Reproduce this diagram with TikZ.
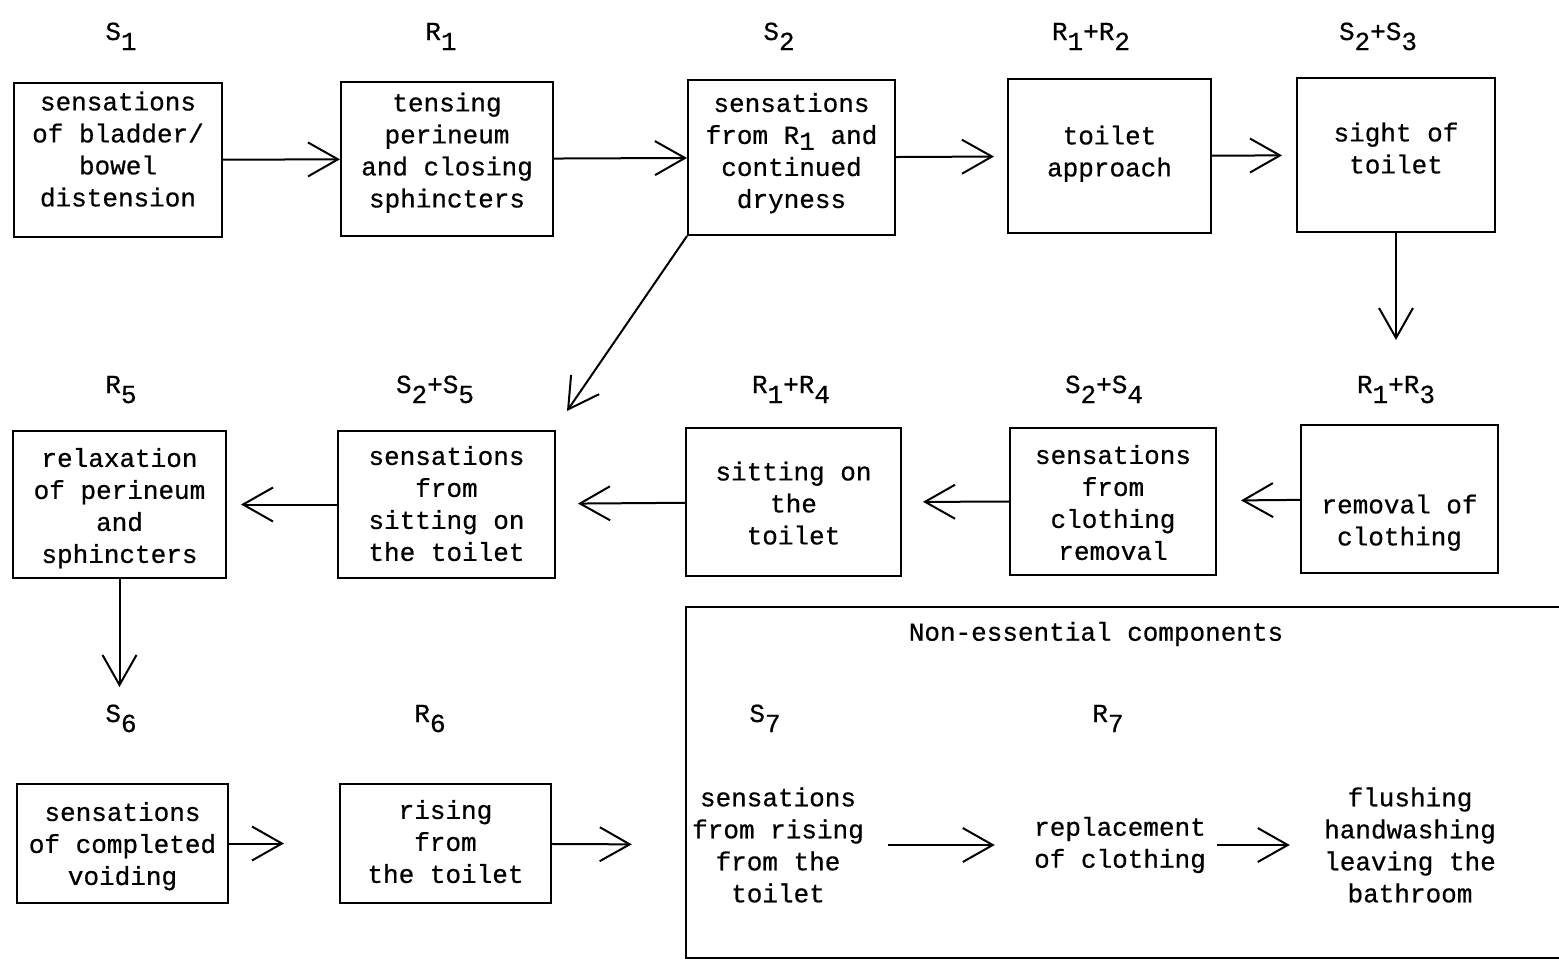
\documentclass[tikz,border=0pt]{standalone}
\usepackage{fontspec}
\usepackage{tikz}
\usetikzlibrary{arrows.meta, positioning}
\newfontfamily\tw[FakeBold=0.6]{Liberation Mono}
\newcommand{\dn}[1]{\raisebox{-5pt}{#1}}
\newcommand{\lift}[2]{\raisebox{#1}[\height][\depth]{\begin{tabular}{@{}c@{}}#2\end{tabular}}}

\begin{document}
\begin{tikzpicture}[x=0.5pt,y=-0.5pt,
    every node/.style={font=\tw\fontsize{13}{16}\selectfont, align=center},
    box/.style 2 args={draw, line width=1pt, inner sep=0pt,
        minimum width=#1*0.5pt, minimum height=#2*0.5pt},
    txt/.style={inner sep=0pt},
    lab/.style={anchor=base, inner sep=0pt},
    arr/.style={-{Straight Barb[length=15pt,width=17pt]}, line width=1pt}]
    \useasboundingbox (0,0) rectangle (1559,960);

    % essential chain
    \node[box={208}{154}] (s1)  at (118,160)    {\lift{4pt}{sensations\\of bladder/\\bowel\\distension}};
    \node[box={212}{154}] (r1)  at (447,159)    {\lift{3pt}{tensing\\perineum\\and closing\\sphincters}};
    \node[box={207}{155}] (s2)  at (791.5,157.5) {\lift{2pt}{sensations\\from R\raisebox{-3pt}{1} and\\continued\\dryness}};
    \node[box={203}{154}] (r12) at (1109.5,156) {\lift{1pt}{toilet\\approach}};
    \node[box={198}{154}] (s23) at (1396,155)   {\lift{2pt}{sight of\\toilet}};
    \node[box={197}{148}] (r13) at (1399.5,499) {\lift{-12pt}{removal of\\clothing}};
    \node[box={206}{147}] (s24) at (1113,501.5) {\lift{-2pt}{sensations\\from\\clothing\\removal}};
    \node[box={215}{148}] (r14) at (793.5,502)  {\lift{-2pt}{sitting on\\the\\toilet}};
    \node[box={217}{147}] (s25) at (446.5,504.5) {\lift{-1pt}{sensations\\from\\sitting on\\the toilet}};
    \node[box={213}{147}] (r5)  at (119.5,504.5) {\lift{-2pt}{relaxation\\of perineum\\and\\sphincters}};
    \node[box={211}{119}] (s6)  at (122.5,843.5) {\lift{-1.5pt}{sensations\\of completed\\voiding}};
    \node[box={211}{119}] (r6)  at (445.5,843.5) {\lift{-0.5pt}{rising\\from\\the toilet}};

    % labels
    \node[lab] (ls1)  at (121,40)  {S\dn{1}};
    \node[lab] (lr1)  at (441,40)  {R\dn{1}};
    \node[lab] (ls2)  at (779,40)  {S\dn{2}};
    \node[lab] (lr12) at (1091,40) {R\dn{1}+R\dn{2}};
    \node[lab] (ls23) at (1378,40) {S\dn{2}+S\dn{3}};
    \node[lab] (lr5)  at (121,393) {R\dn{5}};
    \node[lab] (ls25) at (435,393) {S\dn{2}+S\dn{5}};
    \node[lab] (lr14) at (791,393) {R\dn{1}+R\dn{4}};
    \node[lab] (ls24) at (1104,393) {S\dn{2}+S\dn{4}};
    \node[lab] (lr13) at (1396,393) {R\dn{1}+R\dn{3}};
    \node[lab] (ls6)  at (121,722) {S\dn{6}};
    \node[lab] (lr6)  at (430,722) {R\dn{6}};
    \node[lab] (ls7)  at (765,722) {S\dn{7}};
    \node[lab] (lr7)  at (1108,722) {R\dn{7}};

    % non-essential components
    \draw[line width=1pt] (1559,607) -- (686,607) -- (686,958) -- (1559,958);
    \node[txt] (ne) at (1096,634) {Non-essential components};
    \node[txt] (s7) at (778,845)  {sensations\\from rising\\from the\\toilet};
    \node[txt] (r7) at (1120,845) {replacement\\of clothing};
    \node[txt] (fl) at (1410,845) {flushing\\handwashing\\leaving the\\bathroom};

    \draw[arr] (s1) -- (r1);
    \draw[arr] (r1) -- (s2);
    \draw[arr, shorten >=6.5pt] (s2) -- (r12);
    \draw[arr, shorten >=7pt] (r12) -- (s23);
    \draw[arr, shorten >=42pt] (s23.south) -- (s23.south |- r13.north);
    \draw[arr, shorten >=12pt] (r13) -- (s24);
    \draw[arr, shorten >=10.5pt] (s24) -- (r14);
    \draw[arr, shorten >=11pt] (r14) -- (s25);
    \draw[arr, shorten >=7pt] (s25) -- (r5);
    \draw[arr] (s2.south west) -- ([xshift=5.5pt,yshift=9.5pt]s25.north east);
    \draw[arr, shorten >=48pt] (r5) -- (r5 |- s6.north);
    \draw[arr, shorten >=27.5pt] (s6) -- (r6);
    \draw[arr, shorten >=30pt] (r6) -- (s7);
    \draw[arr, shorten <=12pt, shorten >=19.5pt] (s7) -- (r7);
    \draw[arr, shorten <=5.5pt, shorten >=17pt] (r7) -- (fl);
\end{tikzpicture}
\end{document}
